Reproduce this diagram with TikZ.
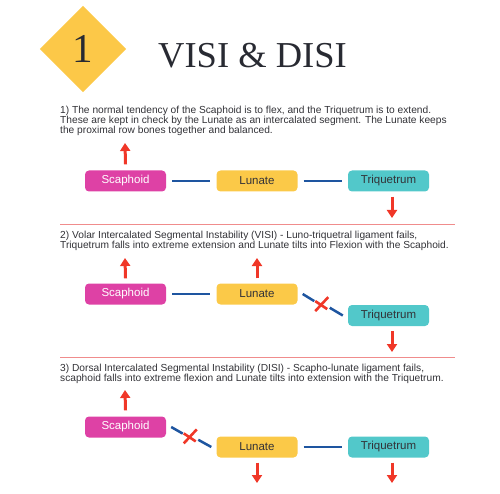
\documentclass[tikz,border=0pt]{standalone}
\usepackage{fontspec}
\setmainfont{Liberation Sans}
\newfontfamily\titlefont{Liberation Serif}
\usetikzlibrary{arrows.meta,calc}
\definecolor{diam}{RGB}{252,200,72}
\definecolor{scacol}{RGB}{222,65,165}
\definecolor{luncol}{RGB}{251,201,72}
\definecolor{tricol}{RGB}{82,200,202}
\definecolor{linkblue}{RGB}{30,85,160}
\definecolor{arrred}{RGB}{240,55,40}
\definecolor{sepred}{RGB}{240,140,140}
\definecolor{txt}{RGB}{50,50,55}
\definecolor{ttl}{RGB}{40,42,50}
\begin{document}
\begin{tikzpicture}[x=1pt,y=-1pt,
  bone/.style={rounded corners=4pt, minimum width=81pt, minimum height=21pt, inner sep=0pt, font=\fontsize{11.5}{13}\selectfont},
  sca/.style={bone, fill=scacol, text=white},
  lun/.style={bone, fill=luncol, text=txt},
  tri/.style={bone, fill=tricol, text=txt},
  redarrow/.style={draw=arrred, line width=3pt, -{Triangle[length=8pt,width=10pt]}},
  link/.style={draw=linkblue, line width=2.5pt},
  xmark/.style={draw=arrred, line width=2.6pt},
  para/.style={anchor=north west, inner sep=0pt, align=left, text=txt, font=\fontsize{10.2}{10}\selectfont},
  sep/.style={draw=sepred, line width=0.8pt}]
\useasboundingbox (0,0) rectangle (500,494);
% title
\node (diamond) [fill=diam, minimum size=61pt, rotate=45, inner sep=0pt] at (83,49) {};
\node (one) [text=ttl, font=\titlefont\fontsize{41}{41}\selectfont] at (83,49) {1};
\node (title) [anchor=base west, inner sep=0pt, text=ttl, font=\titlefont\fontsize{36.5}{36.5}\selectfont] at (158,68) {VISI \& DISI};
% section 1
\node (p1) [para] at (60,106.2) {1) The normal tendency of the Scaphoid is to flex, and the Triquetrum is to extend.\\These are kept in check by the Lunate as an intercalated segment. The Lunate keeps\\the proximal row bones together and balanced.};
\node (s1) [sca] at (125.5,181) {Scaphoid};
\node (l1) [lun] at (257,181) {Lunate};
\node (t1) [tri] at (388.5,181) {Triquetrum};
\draw[link] ([xshift=6pt]s1.east) -- ([xshift=-6pt]l1.west);
\draw[link] ([xshift=6pt]l1.east) -- ([xshift=-6pt]t1.west);
\coordinate (a1s) at (125,143);
\coordinate (a1t) at (392,218);
\draw[redarrow] ([yshift=6pt]s1.north) -- (a1s);
\draw[redarrow] ([yshift=-5pt]t1.south -| a1t) -- (a1t);
\coordinate (sepA) at (60,224.5);
\coordinate (sepB) at (455,224.5);
\draw[sep] (sepA) -- (sepB);
% section 2
\node (p2) [para] at (60,231.2) {2) Volar Intercalated Segmental Instability (VISI) - Luno-triquetral ligament fails,\\Triquetrum falls into extreme extension and Lunate tilts into Flexion with the Scaphoid.};
\node (s2) [sca] at (125.5,294) {Scaphoid};
\node (l2) [lun] at (257,294) {Lunate};
\node (t2) [tri] at (388.5,315.5) {Triquetrum};
\draw[link] ([xshift=6pt]s2.east) -- ([xshift=-6pt]l2.west);
\draw[link] ([xshift=5pt]l2.east) -- ($(l2.east)!0.33!(t2.west)$);
\draw[link] ($(l2.east)!0.64!(t2.west)$) -- ([xshift=-5pt]t2.west);
\coordinate (x2) at ($(l2.east)!0.47!(t2.west)$);
\draw[xmark] ($(x2)+(7,-7)$) -- ($(x2)+(-6,7)$);
\draw[xmark] ($(x2)+(-6,-3)$) -- ($(x2)+(6,5)$);
\coordinate (a2s) at (125,258);
\coordinate (a2l) at (257,258);
\coordinate (a2t) at (392,352);
\draw[redarrow] ([yshift=5pt]s2.north) -- (a2s);
\draw[redarrow] ([yshift=5pt]l2.north) -- (a2l);
\draw[redarrow] ([yshift=-5pt]t2.south -| a2t) -- (a2t);
\coordinate (sepC) at (60,357);
\coordinate (sepD) at (455,357);
\draw[sep] (sepC) -- (sepD);
% section 3
\node (p3) [para] at (60,364) {3) Dorsal Intercalated Segmental Instability (DISI) - Scapho-lunate ligament fails,\\scaphoid falls into extreme flexion and Lunate tilts into extension with the Triquetrum.};
\node (s3) [sca] at (125.5,427) {Scaphoid};
\node (l3) [lun] at (257,447) {Lunate};
\node (t3) [tri] at (388.5,447) {Triquetrum};
\draw[link] ([xshift=5pt]s3.east) -- ($(s3.east)!0.33!(l3.west)$);
\draw[link] ($(s3.east)!0.64!(l3.west)$) -- ([xshift=-5pt]l3.west);
\coordinate (x3) at ($(s3.east)!0.47!(l3.west)$);
\draw[xmark] ($(x3)+(7,-7)$) -- ($(x3)+(-6,7)$);
\draw[xmark] ($(x3)+(-6,-3)$) -- ($(x3)+(6,5)$);
\draw[link] ([xshift=6pt]l3.east) -- ([xshift=-6pt]t3.west);
\coordinate (a3s) at (125,390);
\coordinate (a3l) at (257,483);
\coordinate (a3t) at (392,483);
\draw[redarrow] ([yshift=6pt]s3.north) -- (a3s);
\draw[redarrow] ([yshift=-5pt]l3.south) -- (a3l);
\draw[redarrow] ([yshift=-5pt]t3.south -| a3t) -- (a3t);
\end{tikzpicture}
\end{document}
